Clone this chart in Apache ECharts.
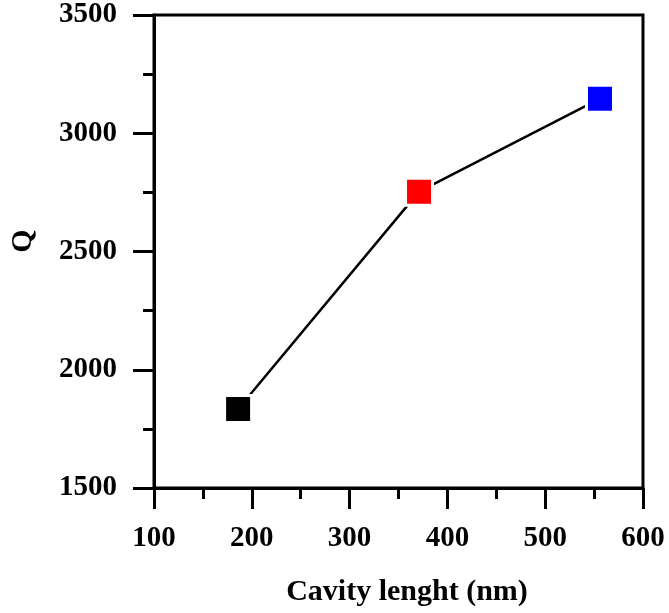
<!DOCTYPE html>
<html>
<head>
<meta charset="utf-8">
<script src="https://cdn.jsdelivr.net/npm/echarts@6/dist/echarts.min.js"></script>
<style>
html,body{margin:0;padding:0;background:#fff;}
#c{width:669px;height:613px;}
</style>
</head>
<body>
<div id="c"></div>
<script>
const cavityLength = [186, 371, 556];
const qValues = [1834, 2753, 3146];
const pointColors = ['#000000', '#ff0000', '#0000ff'];
const xTitle = 'Cavity lenght (nm)';
const yTitle = 'Q';

const FONT = '"Liberation Serif", "Times New Roman", serif';
const chart = echarts.init(document.getElementById('c'), null, {renderer: 'canvas'});

const data = cavityLength.map((x, i) => ({
  value: [x, qValues[i]],
  itemStyle: {color: pointColors[i], borderColor: '#ffffff', borderWidth: 3}
}));

const plain = v => String(v);

chart.setOption({
  animation: false,
  backgroundColor: '#ffffff',
  grid: {left: 154, right: 26, top: 15, bottom: 125, show: true, borderColor: '#000', borderWidth: 3, backgroundColor: 'transparent'},
  xAxis: {
    type: 'value', min: 100, max: 600, interval: 100,
    axisLine: {show: true, lineStyle: {color: '#000', width: 3}},
    axisTick: {show: true, inside: false, length: 21, lineStyle: {color: '#000', width: 3}},
    minorTick: {show: true, splitNumber: 2, length: 11, lineStyle: {color: '#000', width: 3}},
    splitLine: {show: false},
    axisLabel: {margin: 36, color: '#000', fontFamily: FONT, fontWeight: 'bold', fontSize: 29, formatter: plain}
  },
  yAxis: {
    type: 'value', min: 1500, max: 3500, interval: 500,
    axisLine: {show: true, lineStyle: {color: '#000', width: 3}},
    axisTick: {show: true, inside: false, length: 21, lineStyle: {color: '#000', width: 3}},
    minorTick: {show: true, splitNumber: 2, length: 11, lineStyle: {color: '#000', width: 3}},
    splitLine: {show: false},
    axisLabel: {margin: 37, color: '#000', fontFamily: FONT, fontWeight: 'bold', fontSize: 29, formatter: plain}
  },
  series: [{
    type: 'line',
    data: data,
    symbol: 'rect',
    symbolSize: 27,
    lineStyle: {color: '#000', width: 2.5},
    z: 3
  }],
  graphic: [
    {type: 'text', x: 407, y: 592, style: {text: xTitle, fill: '#000', font: 'bold 30px ' + FONT, textAlign: 'center', textVerticalAlign: 'middle'}},
    {type: 'text', x: 23, y: 241, rotation: Math.PI / 2, style: {text: yTitle, fill: '#000', font: 'bold 30px ' + FONT, textAlign: 'center', textVerticalAlign: 'middle'}}
  ]
});
</script>
</body>
</html>
